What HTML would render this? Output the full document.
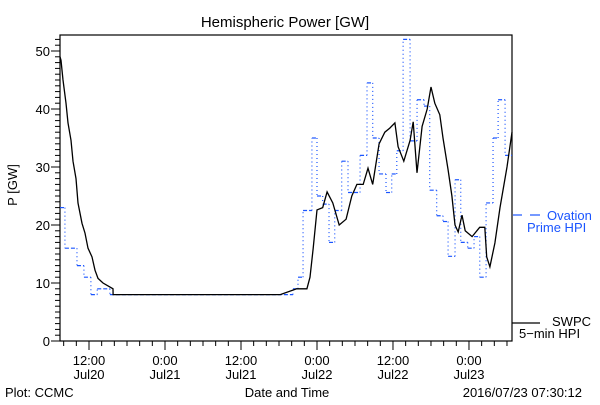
<!DOCTYPE html>
<html><head><meta charset="utf-8"><style>
html,body{margin:0;padding:0;background:#fff;}
svg text{font-family:"Liberation Sans",sans-serif;font-size:13px;}
</style></head><body>
<svg id="chart" width="600" height="400" xmlns="http://www.w3.org/2000/svg">
<rect width="600" height="400" fill="#fff"/>
<text x="285" y="27" text-anchor="middle" font-size="15" style="font-size:15px">Hemispheric Power [GW]</text>
<text transform="translate(17,185) rotate(-90)" text-anchor="middle">P [GW]</text>
<g id="axes"></g>
<g id="series"></g>
<g>
<line x1="513" y1="215" x2="522" y2="215" stroke="#1a55ff" stroke-width="1.2"/>
<line x1="530" y1="215" x2="540" y2="215" stroke="#1a55ff" stroke-width="1.2"/>
<text x="547" y="220" fill="#1a55ff">Ovation</text>
<text x="527" y="232" fill="#1a55ff">Prime HPI</text>
<line x1="512" y1="323" x2="540" y2="323" stroke="#000" stroke-width="1.2"/>
<text x="552" y="326">SWPC</text>
<text x="519" y="338">5−min HPI</text>
</g>
<text x="5" y="397">Plot: CCMC</text>
<text x="287" y="397" text-anchor="middle">Date and Time</text>
<text x="582" y="397" text-anchor="end">2016/07/23 07:30:12</text>
</svg>
<script>
// hours since 2016-07-20 00:00
const swpcHours=[7.42,7.58,7.9,8.37,8.68,9.16,9.47,9.95,10.26,10.89,11.37,11.84,12.47,12.95,13.42,14.21,15.79,15.8,42.2,44.8,46.4,46.9,47.4,48.0,48.9,49.6,50.5,51.5,52.6,53.5,54.3,55.3,56.05,56.8,57.8,58.7,59.5,60.3,60.8,61.7,62.7,63.2,63.8,64.6,65.4,66.0,66.6,67.4,67.9,68.7,69.3,69.8,70.3,70.9,71.4,72.5,73.7,74.5,74.8,75.3,76.1,76.9,78.0,78.8];
const swpcValues=[49,48.4,45,41,37.6,34.6,31,28,23.8,20.3,18.6,16,14.5,12.2,10.8,10,9,8,8,9,9,11,16,22.6,23,25.7,23.8,20,21,25,27,27,29.8,27,34,36,36.7,37.6,33.5,31,34.6,37.8,29,37,40,43.8,41,39,35,29.5,25,20,18.8,21.7,19,18,19.6,19.6,14.5,12.8,16.9,23,30,36];
const ovationStart=[7.42,8.2,10.1,11.2,12.3,13.3,15.3,44.2,45.0,45.8,47.2,48.0,48.9,49.9,50.8,51.9,52.9,54.8,55.9,56.8,57.8,58.9,59.8,60.6,61.6,62.7,63.8,64.9,65.8,66.9,67.9,68.7,69.8,70.7,71.8,72.8,73.7,74.7,75.8,76.6,77.7];
const ovationValues=[23,16,13,11,8,9,8,9,11,22.5,35,25,23.6,17,22.5,31,25.6,32,44.5,35,28.8,25.6,28.8,32.8,52,34.5,41.6,40.5,26,21.6,20.6,14.6,27.8,17,16,18,11,23.8,35,41.6,32];
const ovationEnd=78.8;
const xTickHours=[12,24,36,48,60,72];
const xTickLine1=["12:00","0:00","12:00","0:00","12:00","0:00"];
const xTickLine2=["Jul20","Jul21","Jul21","Jul22","Jul22","Jul23"];
const yTicks=[0,10,20,30,40,50];

const L=60,R=512,T=35,B=341;
const x=h=>89+(h-12)*6.333;
const y=v=>B-v*5.8;
const NS="http://www.w3.org/2000/svg";
function mk(tag,attrs,parent){const e=document.createElementNS(NS,tag);for(const k in attrs)e.setAttribute(k,attrs[k]);parent.appendChild(e);return e;}
const axes=document.getElementById('axes'),series=document.getElementById('series');

const frame=mk('rect',{x:L,y:T,width:R-L,height:B-T,fill:'none',stroke:'#000','stroke-width':1.2},axes);


for(let v=0;v<=52;v++){
  const major=v%10===0;
  const t=mk('line',{x1:L,x2:L-(major?9:5),y1:y(v),y2:y(v),stroke:'#000','stroke-width':1},axes);
  
  
}
yTicks.forEach(v=>{
  const t=mk('text',{x:50,y:y(v)+5,'text-anchor':'end'},axes);t.textContent=v;
  
  
});
for(let h=8;h<=78;h+=2){
  const major=h%12===0;
  const t=mk('line',{x1:x(h),x2:x(h),y1:B,y2:B+(major?9:5),stroke:'#000','stroke-width':1},axes);
  
  
}
xTickHours.forEach((h,i)=>{
  const a=mk('text',{x:x(h),y:365,'text-anchor':'middle'},axes);a.textContent=xTickLine1[i];
  
  
  const b=mk('text',{x:x(h),y:379,'text-anchor':'middle'},axes);b.textContent=xTickLine2[i];
  
  
});

// Ovation step series
const ov=mk('g',{},series);


ovationStart.forEach((h,i)=>{
  const h2=i+1<ovationStart.length?ovationStart[i+1]:ovationEnd;
  const s=mk('line',{x1:x(h),x2:x(h2),y1:y(ovationValues[i]),y2:y(ovationValues[i]),stroke:'#1a55ff','stroke-width':1.2,'stroke-dasharray':'4,2'},ov);
  
  
  if(i+1<ovationStart.length){
    const vl=mk('line',{x1:x(h2),x2:x(h2),y1:y(ovationValues[i]),y2:y(ovationValues[i+1]),stroke:'#1a55ff','stroke-width':1.2,'stroke-dasharray':'1,3'},ov);
    
    
  }
});
// SWPC line
const pts=swpcHours.map((h,i)=>x(h).toFixed(1)+','+y(swpcValues[i]).toFixed(1)).join(' ');
const pl=mk('polyline',{points:pts,fill:'none',stroke:'#000','stroke-width':1.3},series);


</script>
</body></html>
